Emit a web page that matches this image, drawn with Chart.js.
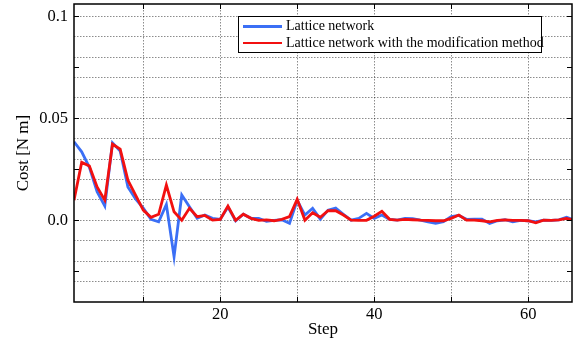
<!DOCTYPE html>
<html>
<head>
<meta charset="utf-8">
<script src="https://cdn.jsdelivr.net/npm/chart.js@4/dist/chart.umd.min.js"></script>
<style>
  html, body { margin: 0; padding: 0; background: #fff; }
  #wrap { position: relative; width: 576px; height: 344px; }
  #legend {
    position: absolute; left: 238px; top: 16px; width: 302px; height: 35px;
    border: 1.5px solid #000; background: #fff;
    font-family: "Liberation Serif", "Times New Roman", serif; font-size: 14px; color: #000;
  }
  .row { position: absolute; left: 0; height: 16px; line-height: 16px; white-space: nowrap; }
  .swatch { position: absolute; left: 4px; top: 7px; width: 39px; height: 2.5px; }
  .lbl { position: absolute; left: 47px; top: 0; }
</style>
</head>
<body>
<div id="wrap">
  <canvas id="c" width="576" height="344"></canvas>
  <div id="legend"></div>
</div>
<script>
const steps = [1,2,3,4,5,6,7,8,9,10,11,12,13,14,15,16,17,18,19,20,21,22,23,24,25,26,27,28,29,30,31,32,33,34,35,36,37,38,39,40,41,42,43,44,45,46,47,48,49,50,51,52,53,54,55,56,57,58,59,60,61,62,63,64,65,66];
const latticeCost = [0.0385,0.0336,0.026,0.014,0.007,0.038,0.034,0.0164,0.0105,0.006,0.0005,-0.0007,0.0078,-0.0178,0.0124,0.0067,0.001,0.0026,0.001,0.0005,0.0065,-0.0002,0.003,0.001,0.001,-0.0005,0.0,0.0003,-0.0015,0.0098,0.0026,0.0059,0.0006,0.005,0.006,0.003,0.0001,0.001,0.0034,0.001,0.0026,0.0005,0.0001,0.001,0.0008,0.0001,-0.0007,-0.0015,-0.0007,0.0018,0.0024,0.0005,0.0006,0.0006,-0.0015,-0.0002,0.0003,-0.0007,0.0,-0.0002,-0.0007,0.0001,0.0,0.0002,0.0015,0.0001];
const modifiedCost = [0.0099,0.0284,0.0266,0.0164,0.0099,0.0373,0.0349,0.0197,0.0124,0.005,0.0015,0.003,0.0173,0.0042,0.0001,0.0059,0.0018,0.0024,0.0001,0.0005,0.007,0.0,0.003,0.001,0.0,0.0002,-0.0002,0.0005,0.0018,0.0103,0.0001,0.0037,0.0015,0.0047,0.0047,0.0026,0.0001,0.0,0.0,0.002,0.0044,0.0005,0.0001,0.0005,0.0003,0.0001,0.0,-0.0002,-0.0002,0.001,0.0026,0.0001,0.0001,-0.0002,-0.0007,0.0,0.0002,0.0,0.0,-0.0002,-0.0012,0.0001,0.0,0.0002,0.001,0.0001];
const seriesNames = ["Lattice network", "Lattice network with the modification method"];
const seriesColors = ["#3b6ff5", "#f21010"];
const xGridTicks = [10,20,30,40,50,60];
const xLabelTicks = [20,40,60];
const yGridTicks = [-0.03,-0.02,-0.01,0,0.01,0.02,0.03,0.04,0.05,0.06,0.07,0.08,0.09,0.1];
const yLabelTicks = [0, 0.05, 0.1];
const yMarkTicks = [-0.025,0,0.025,0.05,0.075,0.1];

const FONT = "'Liberation Serif', 'Times New Roman', serif";

// HTML legend
const leg = document.getElementById('legend');
seriesNames.forEach((n, i) => {
  const r = document.createElement('div');
  r.className = 'row';
  r.style.top = (1 + i * 16.5) + 'px';
  const s = document.createElement('div');
  s.className = 'swatch'; s.style.background = seriesColors[i];
  const t = document.createElement('span');
  t.className = 'lbl'; t.textContent = n;
  r.appendChild(s); r.appendChild(t); leg.appendChild(r);
});

const framePlugin = {
  id: 'frame',
  afterDraw(chart) {
    const {ctx, chartArea: a, scales: {x, y}} = chart;
    ctx.save();
    ctx.strokeStyle = '#000';
    ctx.lineWidth = 1;
    ctx.beginPath();
    xGridTicks.forEach(v => {
      const px = Math.round(x.getPixelForValue(v)) + 0.5;
      ctx.moveTo(px, a.bottom); ctx.lineTo(px, a.bottom - 5);
      ctx.moveTo(px, a.top); ctx.lineTo(px, a.top + 5);
    });
    yMarkTicks.forEach(v => {
      const py = Math.round(y.getPixelForValue(v)) + 0.5;
      ctx.moveTo(a.left, py); ctx.lineTo(a.left + 5, py);
      ctx.moveTo(a.right, py); ctx.lineTo(a.right - 5, py);
    });
    ctx.stroke();
    ctx.lineWidth = 1.5;
    ctx.strokeRect(a.left, a.top, a.right - a.left, a.bottom - a.top);
    ctx.restore();
  }
};

const gridStyle = {
  color: 'rgba(0,0,0,0.45)', lineWidth: 1, drawTicks: false
};

function noPad(s) { s.paddingTop = 0; s.paddingBottom = 0; s.paddingLeft = 0; s.paddingRight = 0; }

new Chart(document.getElementById('c'), {
  type: 'line',
  data: {
    datasets: [
      { label: seriesNames[0], data: steps.map((s, i) => ({x: s, y: latticeCost[i]})),
        borderColor: seriesColors[0], borderWidth: 2.8, pointRadius: 0, tension: 0, order: 2, clip: 0 },
      { label: seriesNames[1], data: steps.map((s, i) => ({x: s, y: modifiedCost[i]})),
        borderColor: seriesColors[1], borderWidth: 2.8, pointRadius: 0, tension: 0, order: 1, clip: 0 }
    ]
  },
  options: {
    responsive: false, animation: false, devicePixelRatio: 1,
    layout: { padding: { top: 4, right: 4, left: 0, bottom: 0 } },
    plugins: { legend: { display: false }, tooltip: { enabled: false } },
    scales: {
      x: {
        type: 'linear', min: 1, max: 65.7,
        afterBuildTicks: s => { s.ticks = xGridTicks.map(v => ({value: v})); },
        afterFit: s => { s.height = 42; noPad(s); },
        grid: gridStyle,
        border: { display: false, dash: [1.5, 1.5] },
        ticks: {
          color: '#000', padding: 3, maxRotation: 0, autoSkip: false,
          font: { family: FONT, size: 16.5 },
          callback: v => xLabelTicks.includes(v) ? String(v) : ''
        },
        title: { display: true, text: 'Step', color: '#000', font: { family: FONT, size: 17 }, padding: { top: 0, bottom: 4 } }
      },
      y: {
        type: 'linear', min: -0.04, max: 0.106,
        afterBuildTicks: s => { s.ticks = yGridTicks.map(v => ({value: v})); },
        afterFit: s => { s.width = 74; noPad(s); },
        grid: gridStyle,
        border: { display: false, dash: [1.5, 1.5] },
        ticks: {
          color: '#000', padding: 6, autoSkip: false,
          font: { family: FONT, size: 16.5 },
          callback: v => {
            const f = yLabelTicks.find(t => Math.abs(t - v) < 1e-9);
            if (f === undefined) return '';
            return f === 0 ? '0.0' : String(f);
          }
        },
        title: { display: true, text: 'Cost [N m]', color: '#000', font: { family: FONT, size: 17 }, padding: { top: 13, bottom: 0 } }
      }
    }
  },
  plugins: [framePlugin]
});
</script>
</body>
</html>
